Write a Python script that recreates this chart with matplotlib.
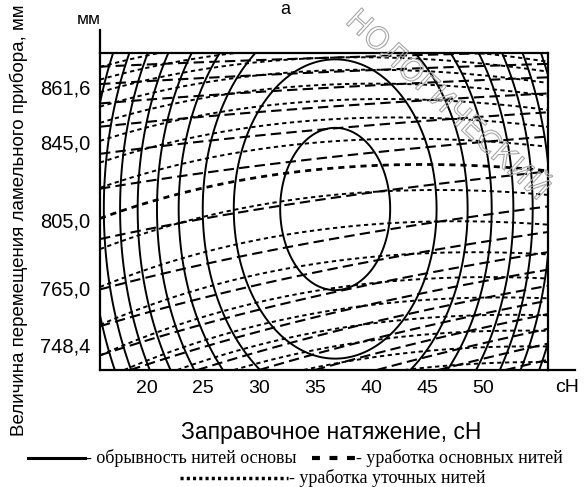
import numpy as np
import matplotlib
matplotlib.use("Agg")
import matplotlib.pyplot as plt
import matplotlib.patheffects as pe
from matplotlib.lines import Line2D

plt.rcParams['font.family'] = ['Liberation Sans', 'DejaVu Sans']

# --- data ---
# x axis: tension, cN
x_ticks = [20, 25, 30, 35, 40, 45, 50]
x_labels = ['20', '25', '30', '35', '40', '45', '50']
# y axis: coded position (0 = bottom, 10 = top), labels are lamella travel, mm
y_tick_pos = [0.79, 2.59, 4.73, 7.19, 8.93]
y_labels = ['748,4', '765,0', '805,0', '845,0', '861,6']

# warp breakage surface: elliptic rings
break_center = [36.8, 5.08]
break_scale = [4.91, 2.56]
break_levels = [1.0, 3.4, 5.8, 8.1, 10.5, 12.9, 15.3, 17.7, 20.0, 22.4]

# warp crimp surface (long dashes)
warp_coef = [0.10, -0.009]          # slope, slope change with y
warp_levels = [-1.6, -1.0, -0.45, 0.1, 0.6, 1.15, 1.75, 2.4, 3.15, 4.1,
               5.4, 6.7, 7.6, 8.3, 8.9, 9.4, 9.85]

# weft crimp surface (short dashes)
weft_coef = [0.07, -0.006, 0.0018]  # slope, slope change with y, curvature
weft_levels = [-0.4, 0.15, 0.7, 1.25, 1.85, 2.55, 3.4, 4.45, 5.5, 6.35,
               7.2, 7.9, 8.5, 9.0, 9.45, 9.85, 10.2, 10.55]
weft_bold = 6.35

# --- figure ---
fig = plt.figure(figsize=(5.84, 4.87), dpi=100)
ax = fig.add_axes([0.1712, 0.2402, 0.7671, 0.6509])

xg = np.linspace(15.8, 55.8, 400)
yg = np.linspace(0, 10, 300)
X, Y = np.meshgrid(xg, yg)

Z1 = ((X - break_center[0]) / break_scale[0]) ** 2 + ((Y - break_center[1]) / break_scale[1]) ** 2
ax.contour(X, Y, Z1, levels=break_levels, colors='k', linewidths=1.4)

Z2 = Y - (warp_coef[0] + warp_coef[1] * Y) * (X - 36)
cs2 = ax.contour(X, Y, Z2, levels=warp_levels, colors='k', linewidths=1.5)
cs2.set_linestyle((0, (5, 2.5)))

Z3 = Y - (weft_coef[0] + weft_coef[1] * Y) * (X - 36) + weft_coef[2] * (X - 36) ** 2
weft_lw = [2.0 if lv == weft_bold else 1.4 for lv in weft_levels]
cs3 = ax.contour(X, Y, Z3, levels=weft_levels, colors='k', linewidths=weft_lw)
cs3.set_linestyle((0, (2.2, 1.8)))

ax.set_xlim(15.8, 55.8)
ax.set_ylim(0, 10)
ax.set_xticks(x_ticks)
ax.set_xticklabels(x_labels, fontsize=14)
ax.set_yticks(y_tick_pos)
ax.set_yticklabels(y_labels, fontsize=14.5)
ax.tick_params(length=0, pad=7)
for s in ax.spines.values():
    s.set_linewidth(1.6)

# axis lines run past the box
ax.plot([0, 0], [1, 1.073], transform=ax.transAxes, clip_on=False, color='k', lw=1.6)
ax.plot([1, 1.06], [0, 0], transform=ax.transAxes, clip_on=False, color='k', lw=1.6)

fig.text(89 / 584, 1 - 20 / 487, 'мм', fontsize=12.5, ha='center', va='center')
fig.text(567 / 584, 1 - 388 / 487, 'сН', fontsize=14, ha='center', va='center')
fig.text(285 / 584, 1 - 9 / 487, 'а', fontsize=13, ha='center', va='center')

fig.text(19 / 584, 1 - 220 / 487, 'Величина перемещения ламельного прибора, мм',
         rotation=90, fontsize=13.5, ha='center', va='center')
fig.text(331 / 584, 1 - 432 / 487, 'Заправочное натяжение, сН',
         fontsize=16.5, ha='center', va='center')

# legend
y1 = 1 - 458 / 487
y2 = 1 - 478 / 487
serif = 'Liberation Serif'
fig.add_artist(Line2D([28 / 584, 85 / 584], [y1, y1], color='k', lw=2.2))
fig.text(86 / 584, y1, '- обрывность нитей основы', family=serif, fontsize=13, va='center')
fig.add_artist(Line2D([312 / 584, 355 / 584], [y1, y1], color='k', lw=3, dashes=(1.9, 2.3)))
fig.text(356 / 584, y1, '- уработка основных нитей', family=serif, fontsize=13, va='center')
fig.add_artist(Line2D([180 / 584, 288 / 584], [y2, y2], color='k', lw=2.5, dashes=(0.9, 0.9)))
fig.text(289 / 584, y2, '- уработка уточных нитей', family=serif, fontsize=13, va='center')

# library watermark
fig.text(350 / 584, 1 - 16 / 487, 'НОЛОГИЧЕСКИЙ', family='DejaVu Sans',
         fontsize=22, rotation=-42.7, rotation_mode='anchor', ha='left', va='center',
         color=(1, 1, 1, 0), path_effects=[pe.Stroke(linewidth=0.8, foreground='0.65')])

fig.savefig('out.png', dpi=100)
